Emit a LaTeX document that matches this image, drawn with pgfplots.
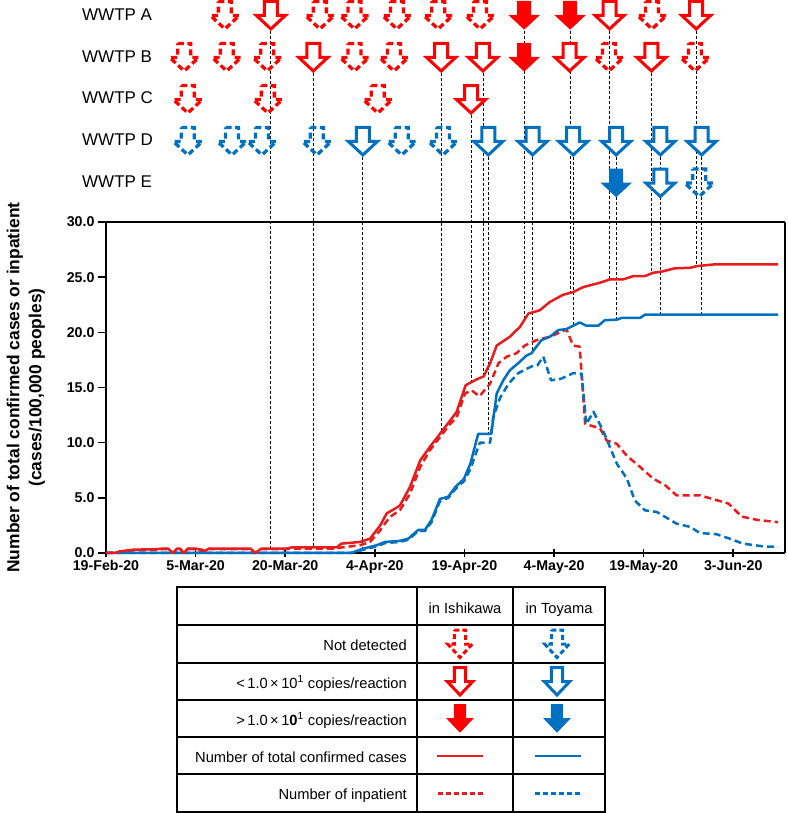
\documentclass[border=0pt]{standalone}
\usepackage{pgfplots}
\pgfplotsset{compat=1.18}
\usepackage{fontspec}
\setmainfont{Liberation Sans}

\definecolor{ared}{RGB}{255,0,0}
\definecolor{lred}{RGB}{232,28,28}
\definecolor{tblue}{RGB}{0,112,192}

% arrow outline, centred on the mark position
\newcommand\arrowpath{%
  \pgfpathmoveto{\pgfqpoint{-6.5pt}{14pt}}%
  \pgfpathlineto{\pgfqpoint{6.5pt}{14pt}}%
  \pgfpathlineto{\pgfqpoint{6.5pt}{0pt}}%
  \pgfpathlineto{\pgfqpoint{14.5pt}{0pt}}%
  \pgfpathlineto{\pgfqpoint{0pt}{-13.5pt}}%
  \pgfpathlineto{\pgfqpoint{-14.5pt}{0pt}}%
  \pgfpathlineto{\pgfqpoint{-6.5pt}{0pt}}%
  \pgfpathclose}
\pgfdeclareplotmark{arrfill}{\arrowpath\pgfusepathqfillstroke}
\pgfdeclareplotmark{arrdash}{\arrowpath\pgfusepathqstroke}
\tikzset{arr/.pic={\path[pic actions] (-6.5,14) -- (6.5,14) -- (6.5,0) -- (14.5,0) -- (0,-13.5) -- (-14.5,0) -- (-6.5,0) -- cycle;}}

\tikzset{
  openA/.style={only marks, mark=arrfill, mark options={solid, draw=#1, fill=white, line width=3pt, line join=miter}},
  fillA/.style={only marks, mark=arrfill, mark options={solid, draw=#1, fill=#1, line width=1pt, line join=miter}},
  dashA/.style={only marks, mark=arrdash, mark options={draw=#1, line width=3.3pt, dash pattern=on 6pt off 3.5pt}},
}

\begin{document}
\begin{tikzpicture}
\path[use as bounding box] (-106pt,-260pt) rectangle (681pt,553pt);
\begin{axis}[
    scale only axis,
    width=679pt, height=331pt,
    xmin=0, xmax=113.66, ymin=0, ymax=30,
    clip=false,
    axis lines=left,
    axis line style={-, line width=2.2pt},
    xtick={0,15,...,105},
    xticklabels={19-Feb-20,5-Mar-20,20-Mar-20,4-Apr-20,19-Apr-20,4-May-20,19-May-20,3-Jun-20},
    ytick={0,5,...,30},
    yticklabels={0.0,5.0,10.0,15.0,20.0,25.0,30.0},
    xtick align=center, ytick align=outside,
    major tick length=8pt,
    tick style={black, line width=1.6pt},
    ticklabel style={font=\bfseries\fontsize{14.2}{16}\selectfont},
    ylabel={Number of total confirmed cases or inpatient\\(cases/100,000 peoples)},
    ylabel style={font=\bfseries\fontsize{17.4}{22}\selectfont, align=center,
      at={(axis description cs:-0.118,0.5)}, anchor=center},
]
% frame, top and right
\draw[line width=1.3pt] (rel axis cs:0,1) -- (rel axis cs:1,1);
\draw[line width=2pt] (rel axis cs:1,1) -- (rel axis cs:1,0);

% dashed guides from the arrows down to the curves
\addplot[black, line width=0.8pt, dash pattern=on 3pt off 2pt, unbounded coords=jump] coordinates {
  (27.6,47.31) (27.6,0.4) (27.6,nan)
  (34.7,43.5) (34.7,0.5) (34.7,nan)
  (56.1,43.5) (56.1,10.9) (56.1,nan)
  (61.1,39.7) (61.1,15.5) (61.1,nan)
  (63.1,43.5) (63.1,16.0) (63.1,nan)
  (70.0,47.31) (70.0,21.2) (70.0,nan)
  (77.7,47.31) (77.7,23.6) (77.7,nan)
  (84.3,47.31) (84.3,24.8) (84.3,nan)
  (91.3,43.5) (91.3,25.4) (91.3,nan)
  (98.8,47.31) (98.8,26.0) (98.8,nan)
  (43.0,35.89) (43.0,0.4) (43.0,nan)
  (64.0,35.89) (64.0,10.8) (64.0,nan)
  (71.4,35.89) (71.4,18.2) (71.4,nan)
  (78.2,35.89) (78.2,20.6) (78.2,nan)
  (85.4,35.89) (85.4,21.2) (85.4,nan)
  (92.8,35.89) (92.8,21.6) (92.8,nan)
  (99.7,35.89) (99.7,21.6)
};

% Ishikawa, inpatient
\addplot[lred, line width=2.5pt, dash pattern=on 7pt off 4pt, line join=round] table {
0 0
1.5 0
2.3 0.1
4.6 0.25
8.5 0.3
9.5 0.35
10.4 0.35
11.2 0
11.9 0.35
12.4 0.35
13.0 0
13.7 0.35
15.0 0.35
16.0 0.2
16.6 0.1
17.2 0.35
24.2 0.35
25.0 0
26.0 0.35
30.3 0.35
31.0 0.4
38.6 0.4
39.4 0.5
42.5 0.7
44.2 1.0
45.9 2.06
47.5 3.26
49.2 3.87
50.9 5.4
52.6 7.8
54.2 9.3
55.9 10.5
57.6 11.7
58.7 12.3
60.1 14.45
61.2 14.75
62.5 14.2
64.3 15.35
65.7 17.2
67.1 17.8
68.7 18.1
70.1 18.8
72.1 19.3
74.3 19.6
76.0 20.0
77.1 20.25
78.2 18.8
79.3 18.7
80.2 11.7
82.7 11.3
83.8 10.2
85.5 9.9
87.2 8.8
89.4 7.8
91.6 6.74
93.6 6.14
95.5 5.23
99.4 5.23
104.2 4.48
106.4 3.3
109.2 2.98
112.5 2.8
};

% Toyama, inpatient
\addplot[tblue, line width=2.5pt, dash pattern=on 7pt off 4pt, line join=round] table {
0 0
41 0
43.1 0.3
45.3 0.6
46.7 0.9
49.2 1.0
50.6 1.2
52.3 2.0
53.4 2.0
54.5 2.8
55.9 4.7
57.3 5.0
58.5 5.8
59.9 6.5
61.0 7.6
62.0 9.15
62.6 10.0
64.3 10.0
64.8 12.3
66.0 14.1
67.4 15.35
69.0 16.3
71.2 16.9
72.2 17.0
73.2 17.8
74.5 15.65
76.2 15.8
78.2 16.3
79.6 16.26
80.4 11.7
81.6 12.8
83.2 11.1
85.5 8.1
87.2 6.74
88.5 4.78
90.2 3.87
92.2 3.72
95.5 2.66
97.8 2.36
99.4 1.81
102.2 1.7
104.4 1.3
106.6 0.85
110 0.6
112.5 0.55
};

% Toyama, total confirmed
\addplot[tblue, line width=2.5pt, line join=round] table {
0 0
41 0
43.1 0.4
45.3 0.7
46.7 1.0
49.2 1.1
50.6 1.3
52.3 2.1
53.4 2.1
54.5 3.0
55.9 4.9
57.3 5.1
58.5 6.0
59.9 6.7
61.0 8.1
62.3 10.8
64.5 10.8
65.4 14.45
66.5 15.65
67.6 16.56
69.0 17.2
70.4 17.9
71.2 18.1
72.9 19.3
74.3 19.6
75.7 20.2
77.1 20.3
79.3 20.9
80.4 20.6
82.4 20.6
83.5 21.1
85.5 21.15
86.3 21.3
89.4 21.3
90.2 21.6
112.5 21.6
};

% Ishikawa, total confirmed
\addplot[lred, line width=2.5pt, line join=round] table {
0 0
1.5 0
2.3 0.15
4.6 0.3
8.5 0.35
9.5 0.4
10.4 0.4
11.2 0
11.9 0.4
12.4 0.4
13.0 0
13.7 0.4
15.0 0.4
16.0 0.3
16.6 0.2
17.2 0.4
24.2 0.4
25.0 0
26.0 0.4
30.3 0.4
31.0 0.5
38.6 0.5
39.4 0.85
42.5 1.0
44.2 1.3
45.9 2.5
47.0 3.6
48.0 3.9
49.2 4.3
50.9 6.0
52.6 8.4
54.2 9.6
55.9 10.8
57.6 12.0
58.7 12.8
60.2 15.2
61.2 15.5
62.3 15.8
63.2 16.0
64.3 17.2
65.4 18.8
67.6 19.6
69.3 20.5
70.7 21.7
72.6 22.0
74.3 22.75
76.5 23.4
78.2 23.65
79.9 24.1
82.7 24.5
84.4 24.8
86.6 24.8
88.3 25.1
90.2 25.1
91.6 25.4
93.0 25.5
95.2 25.8
97.8 25.85
98.9 26.0
101.7 26.15
112.5 26.15
};

% WWTP sampling results: rows A 48.72, B 44.91, C 41.10, D 37.30, E 33.53
\addplot[dashA=ared] coordinates {
  (19.9,48.72) (35.8,48.72) (41.6,48.72) (48.7,48.72) (55.6,48.72) (62.6,48.72) (91.4,48.72)
  (13.1,44.91) (20.2,44.91) (27.0,44.91) (41.6,44.91) (48.2,44.91) (84.2,44.91) (98.6,44.91)
  (13.7,41.10) (27.1,41.10) (45.5,41.10)
};
\addplot[openA=ared] coordinates {
  (27.6,48.72) (84.3,48.72) (98.8,48.72)
  (34.7,44.91) (56.1,44.91) (63.1,44.91) (77.6,44.91) (91.3,44.91)
  (61.1,41.10)
};
\addplot[fillA=ared] coordinates {
  (70.0,48.72) (77.7,48.72) (70.0,44.91)
};
\addplot[dashA=tblue] coordinates {
  (13.7,37.30) (21.1,37.30) (26.1,37.30) (35.3,37.30) (49.5,37.30) (56.4,37.30)
  (99.3,33.53)
};
\addplot[openA=tblue] coordinates {
  (43.0,37.30) (64.0,37.30) (71.4,37.30) (78.2,37.30) (85.4,37.30) (92.8,37.30) (99.7,37.30)
  (92.8,33.53)
};
\addplot[fillA=tblue] coordinates {
  (85.4,33.53)
};
\end{axis}

\begin{scope}[x=1pt, y=1pt]
  % row labels
  \begin{scope}[every node/.style={anchor=base west, inner sep=0pt, font=\fontsize{17}{20}\selectfont}]
    \node at (-24,532.3) {WWTP A};
    \node at (-24,490.3) {WWTP B};
    \node at (-24,449.7) {WWTP C};
    \node at (-24,407.3) {WWTP D};
    \node at (-24,365.7) {WWTP E};
  \end{scope}

  % legend table
  \draw[line width=1.2pt] (71,-34) rectangle (499,-259);
  \foreach \y in {-72,-110,-147,-184,-221} \draw[line width=1.2pt] (71,\y) -- (499,\y);
  \draw[line width=1.2pt] (311,-34) -- (311,-259) (407,-34) -- (407,-259);
  \begin{scope}[every node/.style={inner sep=0pt, font=\fontsize{14.7}{17}\selectfont}]
    \node[anchor=base] at (359,-60) {in Ishikawa};
    \node[anchor=base] at (453,-60) {in Toyama};
    \node[anchor=base east] at (301,-97.5) {Not detected};
    \node[anchor=base east] at (301,-135) {<\,1.0\,×\,10\textsuperscript{1} copies/reaction};
    \node[anchor=base east] at (301,-172) {>\,1.0\,×\,1\textbf{0}\textsuperscript{1} copies/reaction};
    \node[anchor=base east] at (301,-209) {Number of total confirmed cases};
    \node[anchor=base east] at (301,-246.5) {Number of inpatient};
  \end{scope}
  \path (354,-91) pic[draw=ared, line width=3pt, dash pattern=on 5pt off 3pt, xscale=0.85] {arr};
  \path (451,-91) pic[draw=tblue, line width=3pt, dash pattern=on 5pt off 3pt, xscale=0.85] {arr};
  \path (354,-128.5) pic[draw=ared, fill=white, line width=3pt, xscale=0.88] {arr};
  \path (451,-128.5) pic[draw=tblue, fill=white, line width=3pt, xscale=0.88] {arr};
  \path (354,-165.5) pic[draw=ared, fill=ared, line width=1pt, xscale=0.88] {arr};
  \path (451,-165.5) pic[draw=tblue, fill=tblue, line width=1pt, xscale=0.88] {arr};
  \draw[lred, line width=2.5pt] (331,-203) -- (377,-203);
  \draw[tblue, line width=2.5pt] (429,-203) -- (475,-203);
  \draw[lred, line width=2.5pt, dash pattern=on 5pt off 3pt] (332,-240.5) -- (377,-240.5);
  \draw[tblue, line width=2.5pt, dash pattern=on 5pt off 3pt] (429,-240.5) -- (475,-240.5);
\end{scope}
\end{tikzpicture}
\end{document}
